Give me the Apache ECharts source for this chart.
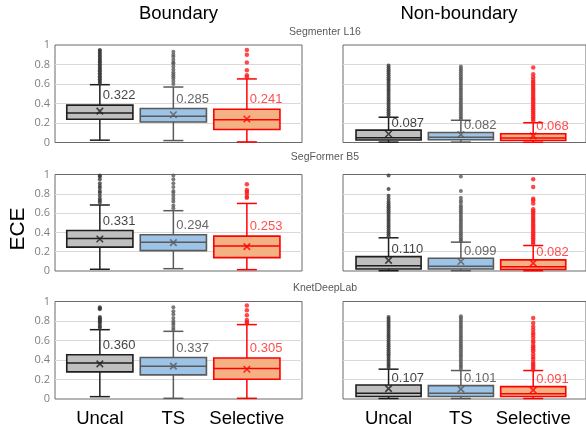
<!DOCTYPE html>
<html>
<head>
<meta charset="utf-8">
<script src="https://cdn.jsdelivr.net/npm/echarts@6/dist/echarts.min.js"></script>
<style>html,body{margin:0;padding:0;background:#fff}#c{width:586px;height:431px}</style>
</head>
<body>
<div id="c"></div>
<script>
const categories = ['Uncal', 'TS', 'Selective'];
const columnTitles = ['Boundary', 'Non-boundary'];
const rowTitles = ['Segmenter L16', 'SegFormer B5', 'KnetDeepLab'];
const yAxisName = 'ECE';

// box values per category: [low whisker, Q1, median, Q3, high whisker]
const segBndBox = [[0.024, 0.238, 0.303, 0.383, 0.593], [0.02, 0.21, 0.269, 0.348, 0.569], [0.006, 0.134, 0.234, 0.341, 0.652]];
const segBndMean = [0.322, 0.285, 0.241];
const segBndOut = [
  [0.61, 0.62, 0.64, 0.65, 0.67, 0.68, 0.70, 0.71, 0.73, 0.74, 0.76, 0.77, 0.79, 0.80, 0.82, 0.83, 0.85, 0.86, 0.88, 0.89, 0.91, 0.92, 0.94, 0.95],
  [0.60, 0.63, 0.66, 0.68, 0.70, 0.72, 0.75, 0.78, 0.81, 0.82, 0.85, 0.88, 0.90, 0.93],
  [0.67, 0.69, 0.74, 0.82, 0.90, 0.95]
];
const segNbBox = [[0.004, 0.025, 0.05, 0.127, 0.259], [0.004, 0.028, 0.055, 0.103, 0.228], [0.003, 0.02, 0.045, 0.089, 0.203]];
const segNbMean = [0.087, 0.082, 0.068];
const segNbOut = [
  [0.27, 0.29, 0.31, 0.33, 0.35, 0.37, 0.39, 0.41, 0.43, 0.45, 0.47, 0.49, 0.51, 0.53, 0.55, 0.57, 0.59, 0.61, 0.63, 0.65, 0.67, 0.69, 0.71, 0.73, 0.75, 0.77, 0.79],
  [0.24, 0.26, 0.28, 0.30, 0.32, 0.34, 0.36, 0.38, 0.40, 0.42, 0.44, 0.46, 0.48, 0.50, 0.52, 0.54, 0.56, 0.58, 0.60, 0.62, 0.64, 0.66, 0.68, 0.70, 0.72, 0.74, 0.76, 0.78],
  [0.22, 0.24, 0.26, 0.28, 0.30, 0.32, 0.34, 0.36, 0.38, 0.40, 0.42, 0.44, 0.46, 0.48, 0.50, 0.52, 0.54, 0.56, 0.58, 0.60, 0.62, 0.64, 0.67, 0.70, 0.77]
];
const sfBndBox = [[0.018, 0.247, 0.336, 0.42, 0.684], [0.024, 0.211, 0.299, 0.375, 0.625], [0.014, 0.139, 0.26, 0.361, 0.70]];
const sfBndMean = [0.331, 0.294, 0.253];
const sfBndOut = [
  [0.71, 0.73, 0.75, 0.78, 0.81, 0.83, 0.86, 0.88, 0.91, 0.95, 0.98, 0.99],
  [0.65, 0.68, 0.72, 0.75, 0.78, 0.81, 0.83, 0.87, 0.91, 0.95, 0.99],
  [0.76, 0.77, 0.80, 0.82, 0.84, 0.90]
];
const sfNbBox = [[0.003, 0.02, 0.055, 0.149, 0.344], [0.003, 0.02, 0.05, 0.132, 0.299], [0.003, 0.016, 0.045, 0.115, 0.264]];
const sfNbMean = [0.110, 0.099, 0.082];
const sfNbOut = [
  [0.36, 0.38, 0.40, 0.42, 0.44, 0.46, 0.48, 0.50, 0.52, 0.54, 0.56, 0.58, 0.60, 0.62, 0.64, 0.66, 0.68, 0.70, 0.72, 0.75, 0.78, 0.85, 0.99],
  [0.31, 0.32, 0.34, 0.36, 0.38, 0.40, 0.42, 0.44, 0.46, 0.48, 0.50, 0.52, 0.54, 0.56, 0.58, 0.60, 0.62, 0.64, 0.66, 0.68, 0.71, 0.73, 0.76, 0.83, 0.98],
  [0.28, 0.30, 0.32, 0.34, 0.36, 0.38, 0.40, 0.42, 0.44, 0.46, 0.48, 0.50, 0.52, 0.54, 0.56, 0.58, 0.60, 0.62, 0.64, 0.70, 0.73, 0.75, 0.87, 0.95]
];
const knBndBox = [[0.024, 0.278, 0.368, 0.454, 0.711], [0.007, 0.247, 0.337, 0.426, 0.694], [0.007, 0.203, 0.313, 0.42, 0.763]];
const knBndMean = [0.360, 0.337, 0.305];
const knBndOut = [
  [0.73, 0.74, 0.76, 0.78, 0.79, 0.80, 0.81, 0.82, 0.83, 0.84, 0.92, 0.93, 0.94],
  [0.71, 0.73, 0.76, 0.78, 0.80, 0.83, 0.87, 0.90, 0.94],
  [0.78, 0.79, 0.81, 0.86, 0.91, 0.96]
];
const knNbBox = [[0.005, 0.025, 0.06, 0.144, 0.306], [0.005, 0.025, 0.058, 0.137, 0.292], [0.005, 0.025, 0.055, 0.127, 0.292]];
const knNbMean = [0.107, 0.101, 0.091];
const knNbOut = [
  [0.32, 0.34, 0.36, 0.38, 0.40, 0.42, 0.44, 0.46, 0.48, 0.50, 0.52, 0.54, 0.56, 0.58, 0.60, 0.62, 0.64, 0.66, 0.68, 0.70, 0.72, 0.74, 0.76, 0.78, 0.80, 0.82, 0.84],
  [0.31, 0.33, 0.35, 0.37, 0.39, 0.41, 0.43, 0.45, 0.47, 0.49, 0.51, 0.53, 0.55, 0.57, 0.59, 0.61, 0.63, 0.65, 0.67, 0.69, 0.71, 0.73, 0.75, 0.77, 0.79, 0.81, 0.83, 0.85],
  [0.30, 0.32, 0.34, 0.36, 0.38, 0.41, 0.43, 0.46, 0.49, 0.51, 0.53, 0.55, 0.58, 0.60, 0.63, 0.66, 0.68, 0.71, 0.74, 0.78, 0.83]
];

const panels = [
  { box: segBndBox, mean: segBndMean, out: segBndOut, row: 0, col: 0 },
  { box: segNbBox, mean: segNbMean, out: segNbOut, row: 0, col: 1 },
  { box: sfBndBox, mean: sfBndMean, out: sfBndOut, row: 1, col: 0 },
  { box: sfNbBox, mean: sfNbMean, out: sfNbOut, row: 1, col: 1 },
  { box: knBndBox, mean: knBndMean, out: knBndOut, row: 2, col: 0 },
  { box: knNbBox, mean: knNbMean, out: knNbOut, row: 2, col: 1 }
];

// styles
const fills = ['#bfbfbf', '#9dc3e6', '#f4b183'];
const strokes = ['#1e1e1e', '#5a5a5a', '#ff0000'];
const dotColors = ['#3a3a3a', '#5a5a5a', '#ff1a1a'];
const labelColors = ['#111111', '#404040', '#ff2020'];
const rowTop = [45, 174.5, 301.5];
const rowHeight = [97.5, 96.5, 97.5];
const colLeft = [55, 343];
const colWidth = 247;
const colXMin = [-0.61, -0.63];
const FONT = '"Liberation Sans", Arial, sans-serif';

function renderBox(params, api) {
  const i = api.value(0);
  const lo = api.coord([i, api.value(1)]);
  const q1 = api.coord([i, api.value(2)]);
  const md = api.coord([i, api.value(3)]);
  const q3 = api.coord([i, api.value(4)]);
  const hi = api.coord([i, api.value(5)]);
  const bw = api.size([0.9, 0])[0];
  const cw = 20;
  const cx = lo[0];
  const s = { stroke: strokes[i], lineWidth: 1.5, fill: null };
  return {
    type: 'group',
    children: [
      { type: 'line', shape: { x1: cx, y1: hi[1], x2: cx, y2: q3[1] }, style: s },
      { type: 'line', shape: { x1: cx, y1: q1[1], x2: cx, y2: lo[1] }, style: s },
      { type: 'line', shape: { x1: cx - cw / 2, y1: hi[1], x2: cx + cw / 2, y2: hi[1] }, style: s },
      { type: 'line', shape: { x1: cx - cw / 2, y1: lo[1], x2: cx + cw / 2, y2: lo[1] }, style: s },
      { type: 'rect', shape: { x: cx - bw / 2, y: q3[1], width: bw, height: q1[1] - q3[1] },
        style: { fill: fills[i], stroke: strokes[i], lineWidth: 1.6 } },
      { type: 'line', shape: { x1: cx - bw / 2, y1: md[1], x2: cx + bw / 2, y2: md[1] }, style: s }
    ]
  };
}

const grid = [], xAxis = [], yAxis = [], series = [];
panels.forEach((p, k) => {
  grid.push({ left: colLeft[p.col], width: colWidth, top: rowTop[p.row], height: rowHeight[p.row],
    show: true, borderColor: '#6a6a6a', borderWidth: 1, backgroundColor: '#fff' });
  const xmin = colXMin[p.col];
  xAxis.push({
    type: 'value', gridIndex: k, min: xmin, max: xmin + 3.36,
    axisLine: { show: false }, axisTick: { show: false }, splitLine: { show: false },
    axisLabel: {
      show: p.row === 2, customValues: [0, 1, 2], margin: 10,
      formatter: v => categories[Math.round(v)] || '',
      fontFamily: FONT, fontSize: 18.5, color: '#000'
    }
  });
  yAxis.push({
    type: 'value', gridIndex: k, min: 0, max: 1, interval: 0.2,
    axisLine: { show: false }, axisTick: { show: false },
    splitLine: { show: true, showMinLine: false, showMaxLine: false, lineStyle: { color: '#d9d9d9', width: 1 } },
    axisLabel: { show: p.col === 0, fontFamily: '"Open Sans", sans-serif', fontSize: 11, color: '#7f7f7f', margin: 5 }
  });
  series.push({
    type: 'custom', xAxisIndex: k, yAxisIndex: k, renderItem: renderBox,
    encode: { x: 0, y: [1, 2, 3, 4, 5] },
    data: p.box.map((b, i) => [i].concat(b)), silent: true
  });
  const outData = [];
  p.out.forEach((arr, i) => arr.forEach(v => outData.push({ value: [i, v], itemStyle: { color: dotColors[i] }, symbolSize: i === 2 ? 4.5 : 4 })));
  series.push({ type: 'scatter', xAxisIndex: k, yAxisIndex: k, data: outData, symbol: 'circle', silent: true });
  series.push({
    type: 'scatter', xAxisIndex: k, yAxisIndex: k, silent: true,
    symbol: 'path://M0,0L10,10M10,0L0,10', symbolSize: 6.5,
    data: p.mean.map((m, i) => ({ value: [i, m], itemStyle: { color: 'none', borderColor: strokes[i], borderWidth: 1.6 } }))
  });
  series.push({
    type: 'scatter', xAxisIndex: k, yAxisIndex: k, silent: true, symbolSize: 1,
    itemStyle: { color: 'rgba(0,0,0,0)' },
    data: p.box.map((b, i) => ({
      value: [i, b[3]],
      label: { show: true, position: 'top', distance: p.col === 0 ? 2.5 : 0, align: 'left', offset: [3, 0],
        formatter: () => p.mean[i].toFixed(3), color: labelColors[i], fontFamily: FONT, fontSize: 13 }
    }))
  });
});

const graphic = [
  { type: 'text', x: 178.5, y: 13.5, style: { text: columnTitles[0], font: '18.5px ' + FONT, fill: '#000', textAlign: 'center', textVerticalAlign: 'middle' } },
  { type: 'text', x: 459, y: 13.5, style: { text: columnTitles[1], font: '18.5px ' + FONT, fill: '#000', textAlign: 'center', textVerticalAlign: 'middle' } },
  { type: 'text', x: 18, y: 229, rotation: Math.PI / 2, style: { text: yAxisName, font: '21px ' + FONT, fill: '#000', textAlign: 'center', textVerticalAlign: 'middle' } }
];
const subY = [32, 157, 288];
rowTitles.forEach((t, r) => graphic.push({ type: 'text', x: 325, y: subY[r], style: { text: t, font: '10.5px ' + FONT, fill: '#595959', textAlign: 'center', textVerticalAlign: 'middle' } }));

const chart = echarts.init(document.getElementById('c'), null, { renderer: 'canvas' });
chart.setOption({ animation: false, backgroundColor: '#fff', grid, xAxis, yAxis, series, graphic });
</script>
</body>
</html>
